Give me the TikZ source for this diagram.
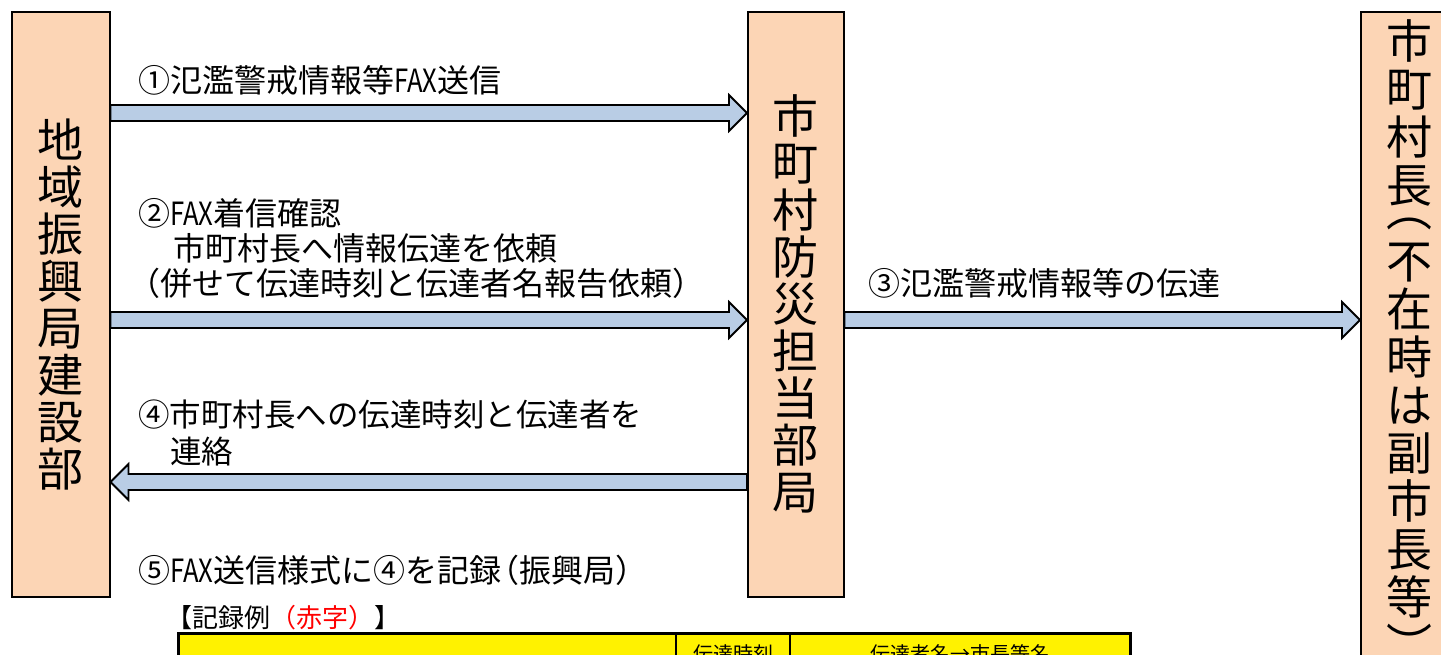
\documentclass[tikz,border=0pt]{standalone}
\usepackage{fontspec}
\usepackage{graphicx}
\setmainfont{Noto Sans CJK JP}
\usetikzlibrary{calc}
\definecolor{boxfill}{HTML}{FCD5B5}
\definecolor{arrfill}{HTML}{B9CDE5}
\newcommand\fax{\scalebox{0.8}[1]{FAX}}
\newcommand\rarrow[2]{\draw[barrow] ($(#1)+(0,-8)$) -- ($(#2)+(-18,-8)$) -- ($(#2)+(-18,-18)$) -- (#2) -- ($(#2)+(-18,18)$) -- ($(#2)+(-18,8)$) -- ($(#1)+(0,8)$) -- cycle;}
\newcommand\larrow[2]{\draw[barrow] ($(#1)+(0,-8)$) -- ($(#2)+(18,-8)$) -- ($(#2)+(18,-18)$) -- (#2) -- ($(#2)+(18,18)$) -- ($(#2)+(18,8)$) -- ($(#1)+(0,8)$) -- cycle;}
\begin{document}
\begin{tikzpicture}[x=1pt,y=-1pt,
  orgbox/.style={draw=black,line width=1.5pt,fill=boxfill,inner sep=0pt,anchor=north west},
  vtext/.style={align=center,inner sep=0pt,font=\fontsize{46}{47}\selectfont},
  lbl/.style={anchor=west,inner sep=0pt,align=left,font=\fontsize{32}{35}\selectfont},
  hdr/.style={inner sep=0pt,font=\fontsize{20}{22}\selectfont},
  barrow/.style={draw=black,line width=1.8pt,fill=arrfill,line join=miter}]
\useasboundingbox (0,0) rectangle (1441,654);
% boxes
\node[orgbox,vtext,minimum width=98,minimum height=585] (L) at (11,11) {地\\域\\振\\興\\局\\建\\設\\部};
\node[orgbox,vtext,minimum width=96,minimum height=585] (M) at (747,11) {市\\町\\村\\防\\災\\担\\当\\部\\局};
\node[orgbox,minimum width=98,minimum height=700] (R) at (1360,11) {};
\node[vtext,font=\fontsize{46}{48}\selectfont,anchor=north] (Rt) at ($(R.north)+(0,8)$) {市\\町\\村\\長\\[-24pt]︵\\[4pt]不\\在\\時\\は\\副\\市\\長\\等\\[0pt]︶};
% arrow levels
\coordinate (y1) at (0,113);
\coordinate (y2) at (0,320);
\coordinate (y4) at (0,482);
\coordinate (a1s) at (L.east |- y1);
\coordinate (a1e) at (M.west |- y1);
\coordinate (a2s) at (L.east |- y2);
\coordinate (a2e) at (M.west |- y2);
\coordinate (a3s) at (M.east |- y2);
\coordinate (a3e) at (R.west |- y2);
\coordinate (a4s) at (M.west |- y4);
\coordinate (a4e) at (L.east |- y4);
\rarrow{a1s}{a1e}
\rarrow{a2s}{a2e}
\rarrow{a3s}{a3e}
\larrow{a4s}{a4e}
% labels
\node[lbl] (t1) at (138,80) {①氾濫警戒情報等\fax 送信};
\node[lbl] (t2) at (128,248) {\hspace*{10pt}②\fax 着信確認\\\hspace*{45pt}市町村長へ情報伝達を依頼\\（併せて伝達時刻と伝達者名報告依頼）};
\node[lbl] (t3) at (868,283) {③氾濫警戒情報等の伝達};
\node[lbl,font=\fontsize{31.5}{37}\selectfont] (t4) at (138,433) {④市町村長への伝達時刻と伝達者を\\\hspace*{32pt}連絡};
\node[lbl] (t5) at (138,570) {⑤\fax 送信様式に④を記録\kern-0.45em（振興局）};
\node[lbl,font=\fontsize{26}{28}\selectfont] (rec) at (166,618) {【記録例\textcolor{red}{（赤字）}】};
% table
\draw[line width=3pt,fill=yellow] (178,633) rectangle (1130,700);
\draw[line width=1.5pt] (676,633) -- (676,700) (790,633) -- (790,700);
\node[hdr] (h1) at (733,654) {伝達時刻};
\node[hdr] (h2) at (960,654) {伝達者名→市長等名};
\end{tikzpicture}
\end{document}
